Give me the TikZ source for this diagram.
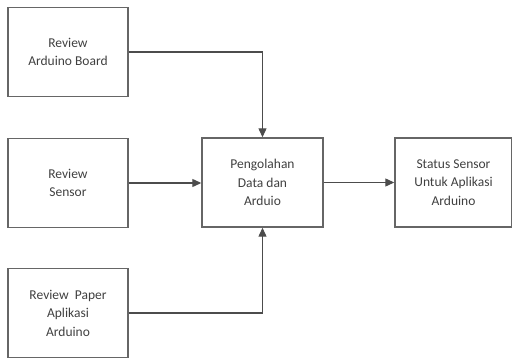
\documentclass[tikz,border=0pt]{standalone}
\usepackage{fontspec}
\setmainfont{Carlito}
\usetikzlibrary{arrows.meta}
\begin{document}
\begin{tikzpicture}[x=1pt,y=-1pt,
  box/.style={draw=black!60,line width=1.4pt,minimum width=120pt,minimum height=89pt,inner sep=0pt,align=center,font=\fontsize{13.5}{18.5}\selectfont,text=black!75},
  conn/.style={draw=black!70,line width=1.2pt,-{Triangle[length=9pt,width=8pt]}}]
\useasboundingbox (0,0) rectangle (512,358);
\node[box] (a) at (68,52) {Review\\Arduino Board};
\node[box] (b) at (68,183) {Review\\Sensor};
\node[box] (c) at (68,313) {Review~ Paper\\Aplikasi\\Arduino};
\node[box,minimum width=121pt] (d) at (262.5,182.5) {Pengolahan\\Data dan\\Arduio};
\node[box,minimum width=117pt] (e) at (453.5,182.5) {Status Sensor\\Untuk Aplikasi\\Arduino};
\draw[conn] (a.east) -| (d.north);
\draw[conn] (b.east) -- (b.east -| d.west);
\draw[conn] (c.east) -| (d.south);
\draw[conn] (d.east) -- (e.west);
\end{tikzpicture}
\end{document}
